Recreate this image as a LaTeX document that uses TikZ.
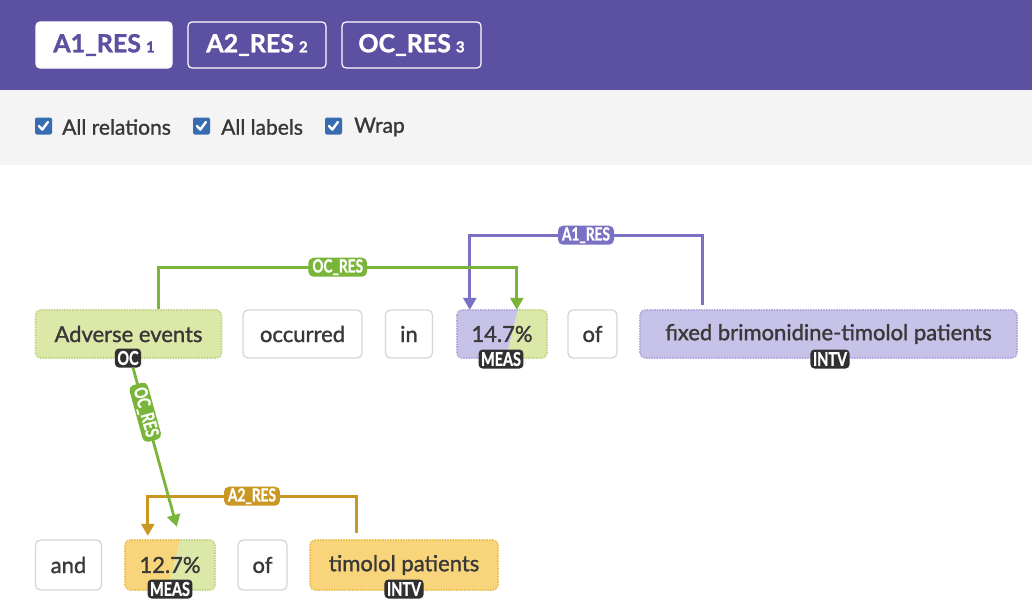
\documentclass[tikz,border=0pt]{standalone}
\usepackage{fontspec}
\setmainfont{Lato}
\newfontfamily\medface{Lato}[FakeBold=1.3]
\newfontfamily\heavyface{Lato}[BoldFeatures={FakeBold=1.2}]
\usetikzlibrary{arrows.meta,calc}

\definecolor{hdr}{RGB}{91,80,161}
\definecolor{bargray}{RGB}{244,244,244}
\definecolor{chkblue}{RGB}{55,108,178}
\definecolor{txt}{RGB}{56,56,56}
\definecolor{boxline}{RGB}{214,214,214}
\definecolor{tagbg}{RGB}{48,48,48}
\definecolor{grnfill}{RGB}{219,232,168}
\definecolor{grnedge}{RGB}{196,214,140}
\definecolor{grnline}{RGB}{121,181,56}
\definecolor{purfill}{RGB}{198,194,232}
\definecolor{puredge}{RGB}{176,170,222}
\definecolor{purline}{RGB}{122,112,196}
\definecolor{orgfill}{RGB}{248,213,122}
\definecolor{orgedge}{RGB}{236,194,90}
\definecolor{goldline}{RGB}{201,151,34}

\newcommand\tokfont{\medface\fontsize{22}{26}\selectfont}
\newcommand\tabfont{\heavyface\bfseries\fontsize{25}{29}\selectfont}
\newcommand\tabnum[1]{\hspace{5pt}{\fontsize{15}{15}\selectfont #1}}
\newcommand\chkfont{\medface\fontsize{21}{25}\selectfont}
\newcommand\narrow[1]{\scalebox{0.76}[1]{#1}}

\tikzset{
  tabbox/.style={draw=white, line width=1.2pt, rounded corners=4pt,
    minimum height=46pt, inner sep=0pt, font=\tabfont, text=white},
  tabon/.style={tabbox, fill=white, text=hdr},
  chk/.style={fill=chkblue, rounded corners=2pt, minimum size=17pt, inner sep=0pt},
  chkmark/.style={draw=white, line width=2.4pt, line cap=round, line join=round},
  chklabel/.style={anchor=west, font=\chkfont, text=txt, inner sep=0pt},
  tok/.style={rounded corners=5pt, minimum height=48pt, inner sep=0pt,
    font=\tokfont, text=txt},
  plain/.style={tok, draw=boxline, line width=1.3pt, fill=white},
  grnbox/.style={tok, fill=grnfill, draw=grnedge, densely dotted, line width=1.6pt},
  purbox/.style={tok, fill=purfill, draw=puredge, densely dotted, line width=1.6pt},
  orgbox/.style={tok, fill=orgfill, draw=orgedge, densely dotted, line width=1.6pt},
  tagbox/.style={fill=tagbg, rounded corners=4pt, text=white, inner xsep=2.5pt,
    inner ysep=0pt, minimum height=19pt, font=\heavyface\bfseries\fontsize{19}{19}\selectfont},
  rel/.style={rounded corners=5pt, text=white, inner xsep=4pt, inner ysep=0pt,
    minimum height=19pt, font=\heavyface\bfseries\fontsize{18}{18}\selectfont},
  arc/.style={line width=2.8pt, -{Triangle[width=13pt,length=12pt]}}
}

\begin{document}
\begin{tikzpicture}[x=1pt,y=-1pt]
\useasboundingbox (0,0) rectangle (1032,614);
\fill[white] (0,0) rectangle (1032,614);

% header with relation tabs
\fill[hdr] (0,0) rectangle (1032,90);
\node[tabon, minimum width=136pt] (t1) at (104,45) {A1\_RES\tabnum{1}};
\node[tabbox, minimum width=138pt] (t2) at (257,45) {A2\_RES\tabnum{2}};
\node[tabbox, minimum width=139pt] (t3) at (411.5,45) {OC\_RES\tabnum{3}};

% option bar with check boxes
\fill[bargray] (0,90) rectangle (1032,165);
\node[chk] (c1) at (43.5,126) {};
\node[chk] (c2) at (201.5,126) {};
\node[chk] (c3) at (333.5,126) {};
\foreach \c in {c1,c2,c3}
  \draw[chkmark] ($(\c.center)+(-4.5,0)$) -- ++(3.3,3.6) -- ++(5.6,-7.6);
\node[chklabel] (l1) at (62,127) {All relations};
\node[chklabel] (l2) at (221,127) {All labels};
\node[chklabel] (l3) at (354,127) {Wrap};

% first line of tokens
\node[grnbox, minimum width=186pt] (ae) at (128.5,334) {Adverse events};
\node[plain, minimum width=119pt] (occ) at (302.5,334) {occurred};
\node[plain, minimum width=47pt] (in) at (409,334) {in};
% 14.7%: shared span, measure of two relations
\begin{scope}
  \clip[rounded corners=5pt] (457,310) rectangle (547,358);
  \fill[purfill] (457,310) -- (518,310) -- (506,358) -- (457,358) -- cycle;
  \fill[grnfill] (518,310) -- (547,310) -- (547,358) -- (506,358) -- cycle;
\end{scope}
\begin{scope}
  \clip (440,300) -- (518,300) -- (518,310) -- (506,358) -- (506,370) -- (440,370) -- cycle;
  \draw[puredge, densely dotted, line width=1.6pt, rounded corners=5pt] (457,310) rectangle (547,358);
\end{scope}
\begin{scope}
  \clip (518,300) -- (560,300) -- (560,370) -- (506,370) -- (506,358) -- (518,310) -- cycle;
  \draw[grnedge, densely dotted, line width=1.6pt, rounded corners=5pt] (457,310) rectangle (547,358);
\end{scope}
\node[tok, minimum width=90pt] (m1) at (502,334) {14.7\%};
\node[plain, minimum width=49pt] (of1) at (592.5,334) {of};
\node[purbox, minimum width=377pt] (fx) at (828.5,334) {fixed brimonidine-timolol patients};

% second line of tokens
\node[plain, minimum width=66pt, minimum height=50pt] (and) at (68.5,565) {and};
\begin{scope}
  \clip[rounded corners=5pt] (125,540) rectangle (215,590);
  \fill[orgfill] (125,540) -- (180,540) -- (168,590) -- (125,590) -- cycle;
  \fill[grnfill] (180,540) -- (215,540) -- (215,590) -- (168,590) -- cycle;
\end{scope}
\begin{scope}
  \clip (110,530) -- (180,530) -- (180,540) -- (168,590) -- (168,600) -- (110,600) -- cycle;
  \draw[orgedge, densely dotted, line width=1.6pt, rounded corners=5pt] (125,540) rectangle (215,590);
\end{scope}
\begin{scope}
  \clip (180,530) -- (230,530) -- (230,600) -- (168,600) -- (168,590) -- (180,540) -- cycle;
  \draw[grnedge, densely dotted, line width=1.6pt, rounded corners=5pt] (125,540) rectangle (215,590);
\end{scope}
\node[tok, minimum width=90pt, minimum height=50pt] (m2) at (170,565) {12.7\%};
\node[plain, minimum width=49pt, minimum height=50pt] (of2) at (262.5,565) {of};
\node[orgbox, minimum width=188pt, minimum height=50pt] (tp) at (404,565) {timolol patients};

% entity tags
\node[tagbox] (gOC) at (128,358) {\narrow{OC}};
\node[tagbox] (gM1) at (501,359) {\narrow{MEAS}};
\node[tagbox] (gI1) at (830,359) {\narrow{INTV}};
\node[tagbox] (gM2) at (170,589) {\narrow{MEAS}};
\node[tagbox] (gI2) at (404,589) {\narrow{INTV}};

% relation end points on the token borders
\coordinate (ocS) at ($(ae.north west)+(124,0)$);
\coordinate (ocT) at ($(m1.north west)+(60,0)$);
\coordinate (a1S) at ($(fx.north west)+(63,-4)$);
\coordinate (a1T) at ($(m1.north west)+(13,0)$);
\coordinate (a2S) at ($(tp.north west)+(47,-6)$);
\coordinate (a2T) at ($(m2.north west)+(23,-4)$);
\coordinate (dS) at ($(gOC.south)+(5,0)$);
\coordinate (dT) at ($(m2.north west)+(52,-13)$);

% relations
\draw[arc, purline] (a1S) -- ++(0,-70) -| node[rel, fill=purline, pos=0.25] {\narrow{A1\_RES}} (a1T);
\draw[arc, grnline] (ocS) -- ++(0,-42) -| node[rel, fill=grnline, pos=0.25] {\narrow{OC\_RES}} (ocT);
\draw[arc, goldline] (a2S) -- ++(0,-37) -| node[rel, fill=goldline, pos=0.25] {\narrow{A2\_RES}} (a2T);
\draw[arc, grnline] (dS) -- node[rel, fill=grnline, sloped, pos=0.28] {\narrow{OC\_RES}} (dT);
\end{tikzpicture}
\end{document}
